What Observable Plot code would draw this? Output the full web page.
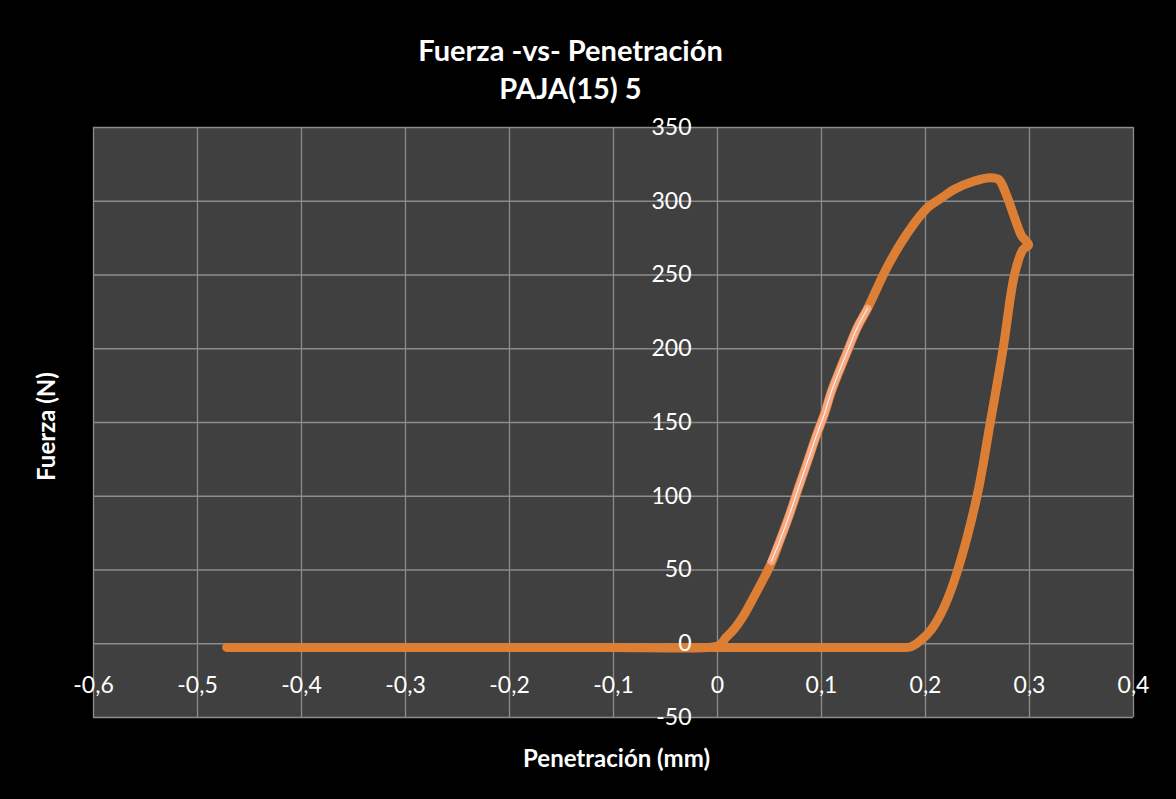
<!DOCTYPE html>
<html><head><meta charset="utf-8">
<script src="https://cdn.jsdelivr.net/npm/d3@7"></script>
<script src="https://cdn.jsdelivr.net/npm/@observablehq/plot@0.6"></script>
<style>html,body{margin:0;padding:0;background:#000;} #chart svg{display:block}</style>
</head><body><div id="chart"></div>
<script>
// Curve: approach (flat), loading, peak, unloading, return
const penetracion = [-0.472, -0.35, -0.2, -0.1, -0.01,
  0.002, 0.008, 0.0166, 0.025, 0.0326, 0.042, 0.0517, 0.06, 0.0693, 0.078, 0.0868, 0.095, 0.1028, 0.11, 0.1187, 0.127, 0.1347, 0.1443,
  0.1634, 0.1826, 0.2017, 0.215, 0.2273, 0.2464, 0.2624, 0.2703, 0.2783, 0.2863, 0.2927, 0.2991,
  0.2935, 0.2855, 0.2746, 0.2623, 0.2495, 0.231, 0.218, 0.206, 0.195, 0.186, 0.175, 0.1, -0.05];
const fuerza = [-2.5, -2.5, -2.5, -2.5, -2.5,
  -1, 4, 10.4, 19, 28.6, 41, 54.7, 70, 87.7, 106, 124, 141, 155.8, 172, 187.6, 202, 214.9, 227.3,
  255.7, 278.4, 295.5, 302, 308, 313.6, 316, 314.8, 303.4, 287.5, 276.2, 270.5,
  267, 250, 200, 150, 100, 50, 25, 10, 2, -2, -2.5, -2.5, -2.5];
// Highlighted (selected) stretch of the loading branch
const hlPenetracion = [0.0517, 0.06, 0.0693, 0.078, 0.0868, 0.095, 0.1028, 0.11, 0.1187, 0.127, 0.1347, 0.1443];
const hlFuerza = [55.9, 70, 87.7, 106, 124, 141, 155.8, 172, 187.6, 202, 214.9, 227.3];

const xTicks = [-0.6, -0.5, -0.4, -0.3, -0.2, -0.1, 0, 0.1, 0.2, 0.3, 0.4];
const yTicks = [-50, 0, 50, 100, 150, 200, 250, 300, 350];
const title = "Fuerza -vs- Penetración";
const subtitle = "PAJA(15) 5";
const xLabel = "Penetración (mm)";
const yLabel = "Fuerza (N)";

const curve = penetracion.map((x, i) => ({x, y: fuerza[i]}));
const hl = hlPenetracion.map((x, i) => ({x, y: hlFuerza[i]}));
const fmt = d => String(d).replace(".", ",");

const chart = Plot.plot({
  width: 1176, height: 799,
  marginLeft: 93, marginRight: 43, marginTop: 127, marginBottom: 82,
  style: {background: "#000", fontFamily: "Lato, 'Open Sans', sans-serif", color: "#fff"},
  x: {domain: [-0.6, 0.4], axis: null},
  y: {domain: [-50, 350], axis: null},
  marks: [
    Plot.frame({fill: "#404040", stroke: null}),
    Plot.ruleX(xTicks, {x: d => d, stroke: "#8c8c8c", strokeWidth: 1.3}),
    Plot.ruleY(yTicks, {y: d => d, stroke: "#8c8c8c", strokeWidth: 1.3}),
    Plot.line(curve, {x: "x", y: "y", curve: "catmull-rom", stroke: "#dc7f35", strokeWidth: 9, strokeLinejoin: "round", strokeLinecap: "round"}),
    Plot.line(hl, {x: "x", y: "y", curve: "catmull-rom", stroke: "#f5aa85", strokeWidth: 7.5, strokeLinecap: "round"}),
    Plot.line(hl, {x: "x", y: "y", curve: "catmull-rom", stroke: "#ffffff", strokeWidth: 1}),
    Plot.text(yTicks, {x: () => 0, y: d => d, text: d => String(d), textAnchor: "end", dx: -26, fill: "#fff", fontSize: 23}),
    Plot.text(xTicks, {x: d => d, y: () => 0, text: fmt, dy: 42, fill: "#fff", fontSize: 23}),
    Plot.text([title], {frameAnchor: "top", lineAnchor: "middle", dx: -43, dy: -76, fill: "#fff", fontSize: 29, fontWeight: "bold"}),
    Plot.text([subtitle], {frameAnchor: "top", lineAnchor: "middle", dx: -43, dy: -38, fill: "#fff", fontSize: 29, fontWeight: "bold"}),
    Plot.text([xLabel], {frameAnchor: "bottom", lineAnchor: "middle", dx: 3, dy: 42, fill: "#fff", fontSize: 24, fontWeight: "bold"}),
    Plot.text([yLabel], {frameAnchor: "left", lineAnchor: "middle", textAnchor: "middle", dx: -46, dy: 4, rotate: -90, fill: "#fff", fontSize: 24, fontWeight: "bold"})
  ]
});
document.getElementById("chart").append(chart);
</script>
</body></html>
